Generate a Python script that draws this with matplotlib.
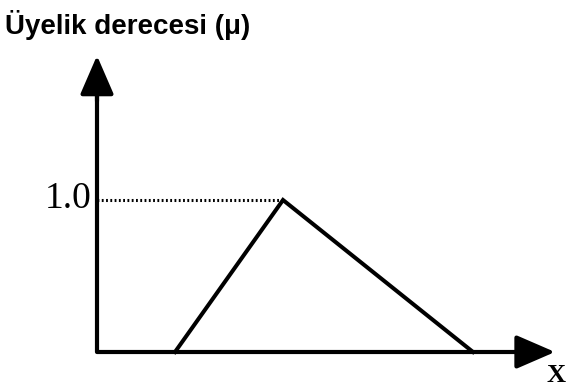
import matplotlib.pyplot as plt

# triangular membership function (x in arbitrary units, mu in [0, 1])
tri_x = [0.78, 1.86, 3.76]
tri_mu = [0.0, 1.0, 0.0]
peak_label = "1.0"
title = "Üyelik derecesi (μ)"
x_label = "X"

# axis extents
x_tip = 4.58
y_tip = 1.95

fig = plt.figure(figsize=(5.66, 3.9), dpi=100)
ax = fig.add_axes([0, 0, 1, 1])
ax.set_xlim(-0.97, 4.69)
ax.set_ylim(-0.25, 2.316)
ax.axis('off')

# L-shaped axes with rounded corner, then arrow heads
ax.plot([0, 0, x_tip - 0.2], [y_tip - 0.15, 0, 0], color='black', lw=3.0,
        solid_joinstyle='round', solid_capstyle='butt')
style = '-|>,head_length=1.2,head_width=0.52'
ax.annotate('', xy=(0, y_tip), xytext=(0, y_tip - 0.3),
            arrowprops=dict(arrowstyle=style, lw=3, color='black',
                            mutation_scale=20, shrinkA=0, shrinkB=0))
ax.annotate('', xy=(x_tip, 0), xytext=(x_tip - 0.4, 0),
            arrowprops=dict(arrowstyle=style, lw=3, color='black',
                            mutation_scale=20, shrinkA=0, shrinkB=0))

# dotted guide at mu = 1
ax.plot([0, tri_x[1]], [tri_mu[1], tri_mu[1]], color='black', lw=2.2,
        linestyle=(0, (0.6, 0.8)))

# the triangle
ax.plot(tri_x, tri_mu, color='black', lw=2.9, solid_joinstyle='miter')

ax.text(-0.05, 1.01, peak_label, family='Liberation Serif', fontsize=27,
        ha='right', va='center')
ax.text(4.59, -0.155, x_label, family='Liberation Serif', fontsize=19,
        fontweight='bold', ha='center', va='center')

fig.text(0.008, 0.975, title, family='Liberation Sans', fontsize=20,
         fontweight='bold', ha='left', va='top')

fig.savefig('out.png', dpi=100)
